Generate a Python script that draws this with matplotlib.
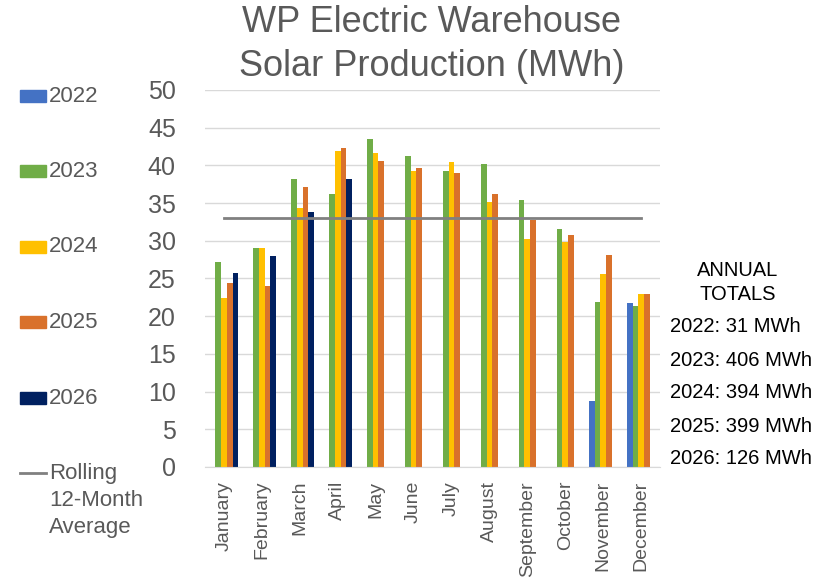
import matplotlib.pyplot as plt
import numpy as np
from matplotlib.patches import Rectangle
from matplotlib.lines import Line2D

plt.rcParams['font.family'] = ['Liberation Sans', 'DejaVu Sans']

months = ['January', 'February', 'March', 'April', 'May', 'June', 'July',
          'August', 'September', 'October', 'November', 'December']
years = ['2022', '2023', '2024', '2025', '2026']
nan = np.nan
mwh_2022 = [nan, nan, nan, nan, nan, nan, nan, nan, nan, nan, 8.7, 21.7]
mwh_2023 = [27.2, 29.1, 38.2, 36.2, 43.5, 41.3, 39.3, 40.2, 35.4, 31.6, 21.9, 21.4]
mwh_2024 = [22.4, 29.0, 34.4, 41.9, 41.6, 39.3, 40.4, 35.2, 30.2, 29.8, 25.6, 22.9]
mwh_2025 = [24.4, 24.0, 37.1, 42.3, 40.6, 39.7, 39.0, 36.2, 32.8, 30.8, 28.1, 22.9]
mwh_2026 = [25.7, 28.0, 33.8, 38.2, nan, nan, nan, nan, nan, nan, nan, nan]
rolling_avg = 33.0
annual_totals = [31, 406, 394, 399, 126]

series = [mwh_2022, mwh_2023, mwh_2024, mwh_2025, mwh_2026]
colors = ['#4472C4', '#70AD47', '#FFC000', '#D9712B', '#002060']
grey = '#595959'

fig = plt.figure(figsize=(8.27, 5.82), dpi=100)
ax = fig.add_axes([0.2479, 0.1976, 0.5502, 0.6478])

x = np.arange(len(months))
bar_w = 0.15
for i, (vals, c) in enumerate(zip(series, colors)):
    ax.bar(x + (i - 2) * bar_w, vals, bar_w, color=c, zorder=2)

# rolling average spans first to last month
ax.plot([x[0], x[-1]], [rolling_avg, rolling_avg], color='#808080', lw=2.0, zorder=3)

ax.set_xlim(-0.5, len(months) - 0.5)
ax.set_ylim(0, 50)
ax.set_yticks(np.arange(0, 51, 5))
ax.set_xticks(x)
ax.set_xticklabels(months, rotation=90, fontsize=14, color=grey)
ax.tick_params(axis='y', length=0, pad=21, labelsize=18, labelcolor=grey)
ax.tick_params(axis='x', length=0, pad=10)
ax.grid(axis='y', color='#d9d9d9', lw=1, zorder=0)
for s in ['top', 'right', 'left']:
    ax.spines[s].set_visible(False)
ax.spines['bottom'].set_color('#d9d9d9')

fig.text(0.522, 0.962, 'WP Electric Warehouse', ha='center', va='center',
         fontsize=26, color=grey)
fig.text(0.522, 0.885, 'Solar Production (MWh)', ha='center', va='center',
         fontsize=26, color=grey)

# legend on the left, drawn by hand to match spacing
W, H = 827.0, 582.0
leg_y = [96, 171, 247, 322, 398]
for yy, c, lab in zip(leg_y, colors, years):
    fig.patches.append(Rectangle((20 / W, 1 - (yy + 6) / H), 26 / W, 12 / H,
                                 color=c, transform=fig.transFigure))
    fig.text(49 / W, 1 - yy / H, lab, ha='left', va='center', fontsize=16, color=grey)
fig.lines.append(Line2D([20 / W, 46 / W], [1 - 473 / H, 1 - 473 / H], color='#808080',
                        lw=2.0, transform=fig.transFigure))
fig.text(49 / W, 1 - 473 / H, 'Rolling', ha='left', va='center', fontsize=16, color=grey)
fig.text(49 / W, 1 - 500 / H, '12-Month', ha='left', va='center', fontsize=16, color=grey)
fig.text(49 / W, 1 - 528 / H, 'Average', ha='left', va='center', fontsize=16, color=grey)

# annual totals on the right
fig.text(738 / W, 1 - 270 / H, 'ANNUAL', ha='center', va='center', fontsize=14.5, color='black')
fig.text(738 / W, 1 - 294 / H, 'TOTALS', ha='center', va='center', fontsize=14.5, color='black')
for k, (yr, tot) in enumerate(zip(years, annual_totals)):
    fig.text(670 / W, 1 - (327 + 33 * k) / H, f'{yr}: {tot} MWh', ha='left', va='center',
             fontsize=14.5, color='black')

fig.savefig('out.png', dpi=100)
